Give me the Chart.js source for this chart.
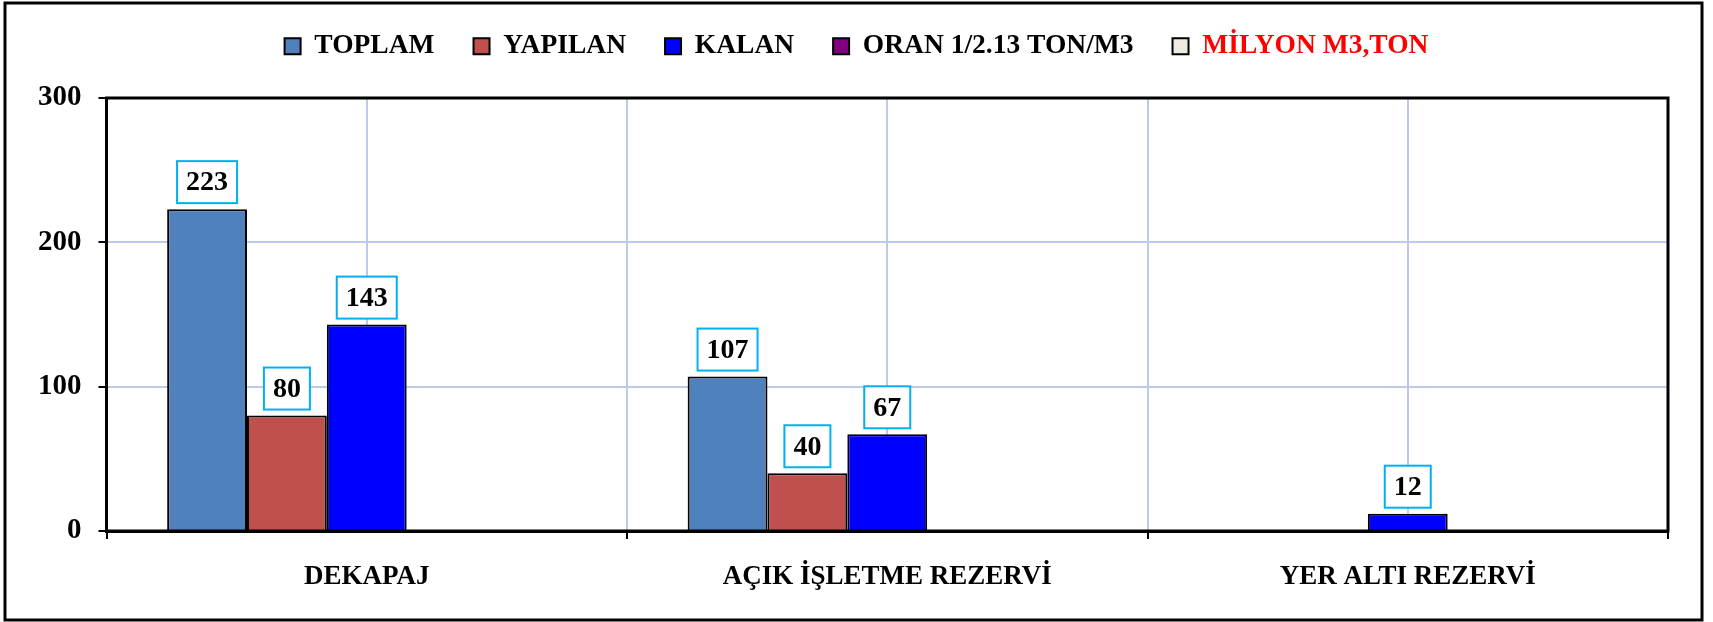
<!DOCTYPE html>
<html>
<head>
<meta charset="utf-8">
<script src="https://cdn.jsdelivr.net/npm/chart.js@4/dist/chart.umd.min.js"></script>
<style>
  html, body { margin: 0; padding: 0; background: #fff; }
  canvas { display: block; }
</style>
</head>
<body>
<canvas id="c" width="1713" height="622"></canvas>
<script>
const categories = ['DEKAPAJ', 'AÇIK İŞLETME REZERVİ', 'YER ALTI REZERVİ'];
const seriesNames = ['TOPLAM', 'YAPILAN', 'KALAN', 'ORAN 1/2.13 TON/M3', 'MİLYON M3,TON'];
const toplam  = [223, 107, null];
const yapilan = [80, 40, null];
const kalan   = [143, 67, 12];
const oran    = [null, null, null];
const milyon  = [null, null, null];
const yTicks  = [0, 100, 200, 300];

const seriesColors = ['#4F81BD', '#C0504D', '#0000FF', '#800080', '#EEECE1'];
const seriesValues = [toplam, yapilan, kalan, oran, milyon];
const FONT = "'Liberation Serif', 'Times New Roman', serif";
const GRID = '#BCCBEA';

const datasets = seriesNames.map((name, i) => ({
  label: name,
  data: seriesValues[i],
  backgroundColor: seriesColors[i],
  borderColor: '#000',
  borderWidth: 2,
  borderSkipped: 'start',
  categoryPercentage: 0.767,
  barPercentage: 1.0
}));

const framePlugin = {
  id: 'frame',
  beforeLayout(chart) {
    const lg = chart.legend;
    if (lg && !lg._patched) {
      const orig = lg.fit;
      lg.fit = function () { orig.call(this); this.height += 28; };
      lg._patched = true;
    }
  },
  afterLayout(chart) {
    const lg = chart.legend;
    if (lg) { lg.left += 12; lg.right += 12; }
  },
  beforeDraw(chart) {
    const ctx = chart.ctx;
    ctx.save();
    ctx.fillStyle = '#fff';
    ctx.fillRect(0, 0, chart.width, chart.height);
    ctx.restore();
  },
  beforeDatasetsDraw(chart) {
    const ctx = chart.ctx, xs = chart.scales.x, a = chart.chartArea;
    ctx.save();
    ctx.strokeStyle = GRID;
    ctx.lineWidth = 2;
    categories.forEach((c, i) => {
      const px = Math.round(xs.getPixelForValue(i));
      ctx.beginPath();
      ctx.moveTo(px, a.top);
      ctx.lineTo(px, a.bottom);
      ctx.stroke();
    });
    ctx.restore();
  },
  afterDatasetsDraw(chart) {
    const ctx = chart.ctx, a = chart.chartArea;
    ctx.save();
    ctx.strokeStyle = '#000';
    ctx.lineWidth = 3;
    ctx.strokeRect(a.left, a.top, a.right - a.left, a.bottom - a.top);
    ctx.font = "bold 28px " + FONT;
    ctx.textAlign = 'center';
    ctx.textBaseline = 'middle';
    chart.data.datasets.forEach((ds, di) => {
      const meta = chart.getDatasetMeta(di);
      meta.data.forEach((el, i) => {
        const v = ds.data[i];
        if (v === null || v === undefined) return;
        const txt = String(v);
        const tw = ctx.measureText(txt).width;
        const bw = tw + 18, bh = 42;
        const bx = el.x - bw / 2;
        const by = el.y - 6 - bh;
        ctx.fillStyle = '#fff';
        ctx.fillRect(bx, by, bw, bh);
        ctx.strokeStyle = '#00B0F0';
        ctx.lineWidth = 2;
        ctx.strokeRect(bx, by, bw, bh);
        ctx.fillStyle = '#000';
        ctx.fillText(txt, el.x, by + bh / 2 + 1);
      });
    });
    ctx.restore();
  },
  afterDraw(chart) {
    const ctx = chart.ctx;
    ctx.save();
    ctx.strokeStyle = '#000';
    ctx.lineWidth = 3;
    ctx.strokeRect(5, 3, 1697, 617);
    ctx.restore();
  }
};

new Chart(document.getElementById('c'), {
  type: 'bar',
  data: { labels: categories, datasets },
  options: {
    responsive: false,
    animation: false,
    devicePixelRatio: 1,
    layout: { padding: { top: -6.5, left: 21, right: 45, bottom: 6.6 } },
    plugins: {
      tooltip: { enabled: false },
      legend: {
        position: 'top',
        align: 'center',
        labels: {
          boxWidth: 16,
          boxHeight: 16,
          padding: 39,
          color: '#000',
          font: { family: FONT, size: 27.5, weight: 'bold' },
          generateLabels(chart) {
            const items = Chart.defaults.plugins.legend.labels.generateLabels(chart);
            items.forEach((it, i) => {
              it.fontColor = (i === items.length - 1) ? '#FF0000' : '#000';
              it.lineWidth = 2;
              it.strokeStyle = '#000';
            });
            return items;
          }
        }
      }
    },
    scales: {
      x: {
        offset: true,
        grid: {
          offset: true,
          display: true,
          drawOnChartArea: true,
          color: (ctx) => (ctx.index === 0 || ctx.index === categories.length) ? 'rgba(0,0,0,0)' : GRID,
          lineWidth: 2,
          tickColor: '#000',
          tickLength: 8,
          tickWidth: 2
        },
        border: { display: true, color: '#000', width: 3 },
        ticks: {
          autoSkip: false,
          maxRotation: 0,
          minRotation: 0,
          padding: 22,
          color: '#000',
          font: { family: FONT, size: 27, weight: 'bold' }
        }
      },
      y: {
        min: yTicks[0],
        max: yTicks[yTicks.length - 1],
        afterBuildTicks(scale) { scale.ticks = yTicks.map(v => ({ value: v })); },
        grid: {
          color: (ctx) => (ctx.tick && (ctx.tick.value === 0 || ctx.tick.value === 300)) ? 'rgba(0,0,0,0)' : GRID,
          lineWidth: 2,
          tickColor: '#000',
          tickLength: 8,
          tickWidth: 2
        },
        border: { display: true, color: '#000', width: 3 },
        ticks: {
          padding: 17,
          color: '#000',
          font: { family: FONT, size: 29, weight: 'bold' }
        }
      }
    }
  },
  plugins: [framePlugin]
});
</script>
</body>
</html>
